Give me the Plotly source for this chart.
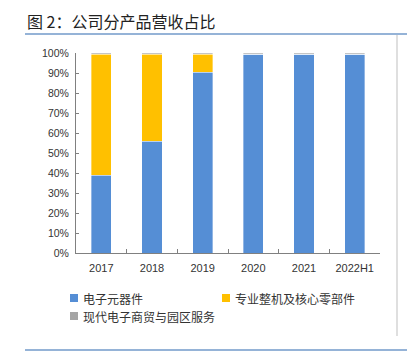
import plotly.graph_objects as go

categories = ["2017", "2018", "2019", "2020", "2021", "2022H1"]
series_names = ["电子元器件", "专业整机及核心零部件", "现代电子商贸与园区服务"]
electronic = [0.39, 0.56, 0.905, 0.995, 0.995, 0.995]
machine = [0.605, 0.435, 0.09, 0.0, 0.0, 0.0]
trade = [0.005, 0.005, 0.005, 0.005, 0.005, 0.005]
colors = ["#558ED5", "#FFC000", "#A5A5A5"]
y_ticks = [0, 0.1, 0.2, 0.3, 0.4, 0.5, 0.6, 0.7, 0.8, 0.9, 1.0]
y_labels = ["0%", "10%", "20%", "30%", "40%", "50%", "60%", "70%", "80%", "90%", "100%"]

fig = go.Figure()
for name, vals, c in zip(series_names, [electronic, machine, trade], colors):
    fig.add_trace(go.Bar(x=categories, y=vals, name=name, marker_color=c,
                         marker_line=dict(color="rgba(255,255,255,0.6)", width=0.6),
                         showlegend=False))

W, H = 419, 353
L, R, T, B = 76, 39, 53, 100
fig.update_layout(
    width=W, height=H, barmode="stack", bargap=0.6,
    margin=dict(l=L, r=R, t=T, b=B),
    paper_bgcolor="white", plot_bgcolor="white",
    font=dict(family="Liberation Sans, Arial", color="#333333"),
    xaxis=dict(showline=True, linecolor="#808080", linewidth=1,
               ticks="inside", ticklen=4, tickcolor="#808080", tickson="boundaries",
               tickfont=dict(size=11, color="#333333"), showgrid=False,
               ticklabelstandoff=5),
    yaxis=dict(range=[0, 1], showline=True, linecolor="#808080", linewidth=1,
               ticks="inside", ticklen=3, tickcolor="#808080",
               tickvals=y_ticks, ticktext=y_labels, showgrid=False,
               tickfont=dict(size=10.5, color="#333333"), zeroline=False,
               ticklabelstandoff=4),
)

shapes = []
annotations = []
pw = W - L - R
ph = H - T - B

def to_paper(xp, yp):
    return (xp - L) / pw, (H - B - yp) / ph

tx0, ty0 = to_paper(25, 21)
annotations.append(dict(text="图 2：公司分产品营收占比", xref="paper", yref="paper",
                        x=tx0, y=ty0, xanchor="left", yanchor="middle", showarrow=False,
                        font=dict(family="Noto Sans CJK SC", size=16, color="#222222")))

# decorative lines
for (x0, y0, x1, y1, col, wid) in [(25, 34, 407, 34, "#95B3D7", 2),
                                   (25, 350, 407, 350, "#95B3D7", 2),
                                   (397, 35, 397, 336, "#BFBFBF", 1)]:
    a0, b0 = to_paper(x0, y0)
    a1, b1 = to_paper(x1, y1)
    shapes.append(dict(type="line", xref="paper", yref="paper", x0=a0, y0=b0, x1=a1, y1=b1,
                       line=dict(color=col, width=wid)))

# legend (manual)
legend_pos = [(70, 298), (222, 298), (70, 316)]
for name, c, (lx, ly) in zip(series_names, colors, legend_pos):
    a0, b0 = to_paper(lx, ly - 4)
    a1, b1 = to_paper(lx + 8, ly + 4)
    shapes.append(dict(type="rect", xref="paper", yref="paper", x0=a0, y0=b1, x1=a1, y1=b0,
                       fillcolor=c, line=dict(width=0)))
    tx, ty = to_paper(lx + 11, ly)
    annotations.append(dict(text=name, xref="paper", yref="paper", x=tx, y=ty,
                            xanchor="left", yanchor="middle", showarrow=False,
                            font=dict(family="Noto Sans CJK SC", size=12, color="#333333")))

fig.update_layout(shapes=shapes, annotations=annotations)
fig.write_html("out.html")
